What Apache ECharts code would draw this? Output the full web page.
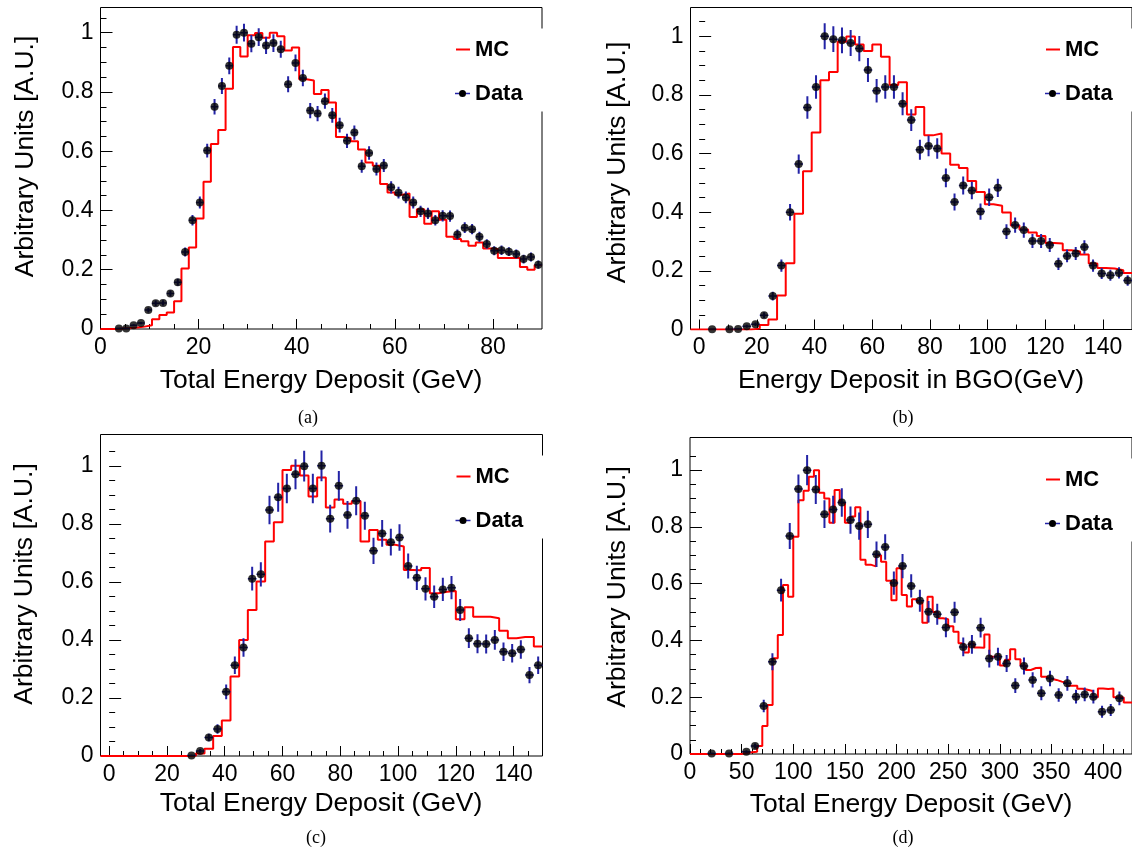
<!DOCTYPE html>
<html lang="en">
<head>
<meta charset="UTF-8">
<title>MC vs Data</title>
<script src="https://cdn.jsdelivr.net/npm/echarts@6/dist/echarts.min.js"></script>
<style>
  html, body { margin: 0; padding: 0; background: #fff; }
  #main { width: 1132px; height: 850px; }
</style>
</head>
<body>
<div id="main"></div>
<script>
// ---------- (a) Total Energy Deposit, 1.5 GeV bins ----------
var aBinWidth = 1.5;
var aMcStart = 0;
var aMc = [0, 0, 0.002, 0.003, 0.005, 0.008, 0.013, 0.033, 0.047, 0.056,
  0.094, 0.204, 0.275, 0.373, 0.497, 0.624, 0.672, 0.811, 0.952, 0.92,
  0.991, 0.999, 0.983, 1.0, 0.988, 0.94, 0.95, 0.843, 0.839, 0.793,
  0.807, 0.764, 0.648, 0.645, 0.634, 0.606, 0.562, 0.551, 0.489, 0.461,
  0.453, 0.457, 0.378, 0.404, 0.355, 0.397, 0.369, 0.311, 0.304, 0.296,
  0.281, 0.292, 0.272, 0.27, 0.24, 0.24, 0.24, 0.209, 0.2, 0.216];
var aDataFirstBin = 2;
var aData = [0.002, 0.002, 0.013, 0.02, 0.064, 0.087, 0.088, 0.12, 0.158, 0.26,
  0.367, 0.427, 0.602, 0.75, 0.82, 0.888, 0.993, 1.0, 0.963, 0.985,
  0.957, 0.965, 0.944, 0.826, 0.898, 0.847, 0.737, 0.727, 0.769, 0.721,
  0.688, 0.635, 0.663, 0.549, 0.594, 0.54, 0.552, 0.478, 0.46, 0.444,
  0.427, 0.397, 0.39, 0.367, 0.382, 0.381, 0.319, 0.342, 0.337, 0.311,
  0.287, 0.264, 0.266, 0.261, 0.253, 0.236, 0.243, 0.217];
var aErr = [0.001, 0.001, 0.003, 0.004, 0.008, 0.009, 0.009, 0.010, 0.012, 0.015,
  0.018, 0.020, 0.023, 0.026, 0.027, 0.028, 0.030, 0.030, 0.029, 0.030,
  0.029, 0.030, 0.029, 0.027, 0.028, 0.028, 0.026, 0.026, 0.026, 0.025,
  0.025, 0.024, 0.024, 0.022, 0.023, 0.022, 0.022, 0.021, 0.020, 0.020,
  0.020, 0.019, 0.019, 0.018, 0.019, 0.019, 0.017, 0.018, 0.017, 0.017,
  0.016, 0.015, 0.016, 0.015, 0.015, 0.015, 0.015, 0.014];

// ---------- (b) Energy Deposit in BGO, 3 GeV bins ----------
var bBinWidth = 3;
var bMcStart = -3;
var bMc = [0, 0, 0, 0, 0, 0, 0, 0.003, 0.015, 0.034, 0.116,
  0.226, 0.395, 0.54, 0.672, 0.85, 0.878, 0.981, 0.999, 0.972, 0.95,
  0.972, 0.93, 0.834, 0.843, 0.733, 0.759, 0.662, 0.668, 0.6, 0.562,
  0.551, 0.506, 0.469, 0.427, 0.422, 0.399, 0.355, 0.341, 0.331, 0.319,
  0.295, 0.293, 0.27, 0.266, 0.256, 0.225, 0.21, 0.208, 0.202, 0.193];
var bDataFirstBin = 1;
var bData = [0.001, null, 0.001, 0.002, 0.011, 0.018, 0.049, 0.114, 0.218, 0.4,
  0.564, 0.757, 0.827, 1.0, 0.99, 0.986, 0.977, 0.958, 0.885, 0.814,
  0.827, 0.827, 0.77, 0.714, 0.613, 0.626, 0.617, 0.517, 0.435, 0.491,
  0.474, 0.402, 0.451, 0.483, 0.334, 0.356, 0.339, 0.302, 0.302, 0.288,
  0.224, 0.251, 0.259, 0.281, 0.218, 0.191, 0.185, 0.193, 0.167];
var bErr = [0.001, null, 0.001, 0.002, 0.005, 0.006, 0.010, 0.015, 0.021, 0.028,
  0.033, 0.038, 0.040, 0.044, 0.044, 0.044, 0.044, 0.043, 0.041, 0.040,
  0.040, 0.040, 0.039, 0.037, 0.034, 0.035, 0.035, 0.032, 0.029, 0.031,
  0.030, 0.028, 0.030, 0.031, 0.025, 0.026, 0.026, 0.024, 0.024, 0.024,
  0.021, 0.022, 0.022, 0.023, 0.021, 0.019, 0.019, 0.019, 0.018];

// ---------- (c) Total Energy Deposit, 3 GeV bins ----------
var cBinWidth = 3;
var cMcStart = -3;
var cMc = [0, 0, 0, 0, 0, 0, 0, 0, 0, 0, 0.001,
  0.009, 0.025, 0.069, 0.122, 0.274, 0.4, 0.503, 0.601, 0.739, 0.806,
  0.986, 1.0, 0.967, 0.894, 0.96, 0.856, 0.884, 0.869, 0.879, 0.739,
  0.779, 0.745, 0.728, 0.722, 0.641, 0.64, 0.648, 0.561, 0.566, 0.569,
  0.471, 0.513, 0.48, 0.48, 0.475, 0.432, 0.406, 0.41, 0.41, 0.377];
var cDataFirstBin = 9;
var cData = [0.002, 0.017, 0.064, 0.093, 0.221, 0.313, 0.374, 0.611, 0.626, 0.848,
  0.892, 0.922, 0.971, 0.999, 0.922, 1.0, 0.818, 0.931, 0.831, 0.88,
  0.828, 0.707, 0.767, 0.737, 0.753, 0.655, 0.614, 0.576, 0.549, 0.574,
  0.58, 0.503, 0.406, 0.387, 0.386, 0.4, 0.359, 0.354, 0.367, 0.279, 0.313];
var cErr = [0.002, 0.007, 0.013, 0.016, 0.025, 0.030, 0.032, 0.041, 0.042, 0.049,
  0.050, 0.051, 0.052, 0.053, 0.051, 0.053, 0.048, 0.051, 0.048, 0.050,
  0.048, 0.045, 0.046, 0.046, 0.046, 0.043, 0.042, 0.040, 0.039, 0.040,
  0.040, 0.038, 0.034, 0.033, 0.033, 0.034, 0.032, 0.032, 0.032, 0.028, 0.030];

// ---------- (d) Total Energy Deposit, MC 5 GeV bins, data 8.4 GeV bins ----------
var dMcBinWidth = 5;
var dMcStart = 0;
var dMc = [0, 0, 0, 0, 0, 0, 0, 0, 0, 0,
  0.004, 0.006, 0.008, 0.028, 0.099, 0.173, 0.337, 0.419, 0.595, 0.554,
  0.765, 0.894, 0.927, 0.977, 1.0, 0.92, 0.9, 0.815, 0.93, 0.885,
  0.815, 0.837, 0.869, 0.684, 0.667, 0.661, 0.7, 0.677, 0.61, 0.542,
  0.654, 0.56, 0.52, 0.545, 0.535, 0.462, 0.554, 0.5, 0.478, 0.475,
  0.45, 0.431, 0.39, 0.358, 0.388, 0.375, 0.374, 0.421, 0.343, 0.347,
  0.312, 0.332, 0.369, 0.334, 0.311, 0.296, 0.303, 0.304, 0.272, 0.265,
  0.261, 0.255, 0.25, 0.24, 0.24, 0.23, 0.226, 0.222, 0.2, 0.231,
  0.229, 0.231, 0.2, 0.199, 0.181, 0.181];
var dBinWidth = 8.4;
var dDataFirstBin = 2;
var dData = [0.002, null, 0.002, null, 0.008, 0.028, 0.169, 0.325, 0.577, 0.768,
  0.934, 1.0, 0.932, 0.845, 0.861, 0.886, 0.824, 0.803, 0.809, 0.704,
  0.729, 0.602, 0.662, 0.592, 0.54, 0.501, 0.492, 0.446, 0.499, 0.377,
  0.386, 0.445, 0.336, 0.343, 0.319, 0.241, 0.31, 0.261, 0.214, 0.266,
  0.208, 0.249, 0.202, 0.21, 0.202, 0.149, 0.155, 0.196];
var dErr = [0.002, null, 0.002, null, 0.005, 0.009, 0.022, 0.030, 0.040, 0.046,
  0.051, 0.053, 0.051, 0.049, 0.049, 0.050, 0.048, 0.048, 0.048, 0.045,
  0.045, 0.041, 0.043, 0.041, 0.039, 0.038, 0.037, 0.035, 0.037, 0.033,
  0.033, 0.035, 0.031, 0.031, 0.030, 0.026, 0.030, 0.027, 0.025, 0.027,
  0.024, 0.026, 0.024, 0.024, 0.024, 0.021, 0.021, 0.024];

// ---------- tick values ----------
var yMajor = [0, 0.2, 0.4, 0.6, 0.8, 1];
var yMinor = [0.05, 0.1, 0.15, 0.25, 0.3, 0.35, 0.45, 0.5, 0.55, 0.65, 0.7, 0.75, 0.85, 0.9, 0.95, 1.05];
var aXMajor = [0, 20, 40, 60, 80];
var aXMinor = [5, 10, 15, 25, 30, 35, 45, 50, 55, 65, 70, 75, 85];
var bXMajor = [0, 20, 40, 60, 80, 100, 120, 140];
var bXMinor = [10, 30, 50, 70, 90, 110, 130];
var cXMajor = [0, 20, 40, 60, 80, 100, 120, 140];
var cXMinor = [5, 10, 15, 25, 30, 35, 45, 50, 55, 65, 70, 75, 85, 90, 95,
  105, 110, 115, 125, 130, 135, 145];
var dXMajor = [0, 50, 100, 150, 200, 250, 300, 350, 400];
var dXMinor = [10, 20, 30, 40, 60, 70, 80, 90, 110, 120, 130, 140, 160, 170, 180, 190,
  210, 220, 230, 240, 260, 270, 280, 290, 310, 320, 330, 340, 360, 370, 380, 390, 410, 420];

var sans = '"Liberation Sans", Arial, Helvetica, sans-serif';
var serif = '"Liberation Serif", "Times New Roman", serif';
var errColor = '#2323a6';

// histogram outline: one point per low edge, plus the last upper edge
function stepPoints(start, width, values) {
  var pts = values.map(function (v, i) { return [start + i * width, v]; });
  pts.push([start + values.length * width, values[values.length - 1]]);
  return pts;
}
// [center, value, error, half bin width]; empty bins are skipped
function dataPoints(firstBin, width, values, errs) {
  var out = [];
  values.forEach(function (v, i) {
    if (v === null) return;
    out.push([(firstBin + i + 0.5) * width, v, errs[i], width / 2]);
  });
  return out;
}

var panels = [
  { box: { left: 100.5, top: 7.5, width: 441.5, height: 321.5 }, xMin: 0, xMax: 90, yMax: 1.085,
    xMajor: aXMajor, xMinor: aXMinor,
    mc: stepPoints(aMcStart, aBinWidth, aMc), data: dataPoints(aDataFirstBin, aBinWidth, aData, aErr),
    xTitle: 'Total Energy Deposit (GeV)', xTitleAt: [321, 381], yTitleAt: [25.5, 156.5],
    caption: '(a)', captionAt: [308, 418] },
  { box: { left: 690.5, top: 7.5, width: 441.5, height: 322 }, xMin: -3, xMax: 150, yMax: 1.098,
    xMajor: bXMajor, xMinor: bXMinor,
    mc: stepPoints(bMcStart, bBinWidth, bMc), data: dataPoints(bDataFirstBin, bBinWidth, bData, bErr),
    xTitle: 'Energy Deposit in BGO(GeV)', xTitleAt: [911, 381], yTitleAt: [618, 162.5],
    caption: '(b)', captionAt: [903, 418] },
  { box: { left: 100.5, top: 434.5, width: 442, height: 321.5 }, xMin: -3, xMax: 150, yMax: 1.108,
    xMajor: cXMajor, xMinor: cXMinor,
    mc: stepPoints(cMcStart, cBinWidth, cMc), data: dataPoints(cDataFirstBin, cBinWidth, cData, cErr),
    xTitle: 'Total Energy Deposit (GeV)', xTitleAt: [321, 804], yTitleAt: [24.5, 584],
    caption: '(c)', captionAt: [316, 838] },
  { box: { left: 690, top: 437.5, width: 442, height: 316.5 }, xMin: 0, xMax: 428, yMax: 1.115,
    xMajor: dXMajor, xMinor: dXMinor,
    mc: stepPoints(dMcStart, dMcBinWidth, dMc), data: dataPoints(dDataFirstBin, dBinWidth, dData, dErr),
    xTitle: 'Total Energy Deposit (GeV)', xTitleAt: [911, 805], yTitleAt: [617.5, 587],
    caption: '(d)', captionAt: [903, 838] }
];

function renderErr(params, api) {
  var x = api.value(0), y = api.value(1), e = api.value(2), hw = api.value(3);
  var top = api.coord([x, y + e]), bot = api.coord([x, y - e]);
  var l = api.coord([x - hw, y]), r = api.coord([x + hw, y]);
  return {
    type: 'group',
    children: [
      { type: 'line', shape: { x1: top[0], y1: top[1], x2: bot[0], y2: bot[1] },
        style: { stroke: errColor, lineWidth: 2 } },
      { type: 'line', shape: { x1: l[0], y1: l[1], x2: r[0], y2: r[1] },
        style: { stroke: errColor, lineWidth: 1.5 } }
    ]
  };
}

var grids = [], xAxes = [], yAxes = [], series = [], graphics = [];

panels.forEach(function (p, i) {
  grids.push({
    left: p.box.left, top: p.box.top, width: p.box.width, height: p.box.height,
    show: true, borderColor: '#000', borderWidth: 1, outerBoundsMode: 'none'
  });
  // main x axis (labels + major ticks) and a second one only for minor ticks
  xAxes.push({
    type: 'value', gridIndex: i, position: 'bottom', min: p.xMin, max: p.xMax,
    axisLine: { show: false }, splitLine: { show: false },
    axisTick: { inside: true, length: 10, customValues: p.xMajor, lineStyle: { color: '#000', width: 1 } },
    axisLabel: { customValues: p.xMajor, margin: 7, fontSize: 23, color: '#000', fontFamily: sans }
  });
  xAxes.push({
    type: 'value', gridIndex: i, position: 'bottom', min: p.xMin, max: p.xMax,
    axisLine: { show: false }, splitLine: { show: false }, axisLabel: { show: false },
    axisTick: { inside: true, length: 5, customValues: p.xMinor, lineStyle: { color: '#000', width: 1 } }
  });
  yAxes.push({
    type: 'value', gridIndex: i, position: 'left', min: 0, max: p.yMax,
    axisLine: { show: false }, splitLine: { show: false },
    axisTick: { inside: true, length: 12, customValues: yMajor, lineStyle: { color: '#000', width: 1 } },
    axisLabel: { customValues: yMajor, margin: 7, fontSize: 23, color: '#000', fontFamily: sans }
  });
  yAxes.push({
    type: 'value', gridIndex: i, position: 'left', min: 0, max: p.yMax,
    axisLine: { show: false }, splitLine: { show: false }, axisLabel: { show: false },
    axisTick: { inside: true, length: 6, customValues: yMinor, lineStyle: { color: '#000', width: 1 } }
  });

  series.push({
    name: 'MC', type: 'line', step: 'end', xAxisIndex: 2 * i, yAxisIndex: 2 * i,
    data: p.mc, showSymbol: false, symbol: 'none', clip: true, z: 2,
    lineStyle: { color: '#ff0000', width: 2 }
  });
  series.push({
    name: 'Data error', type: 'custom', xAxisIndex: 2 * i, yAxisIndex: 2 * i,
    data: p.data, renderItem: renderErr, clip: true, z: 3
  });
  series.push({
    name: 'Data', type: 'scatter', xAxisIndex: 2 * i, yAxisIndex: 2 * i,
    data: p.data.map(function (d) { return [d[0], d[1]]; }),
    symbol: 'circle', symbolSize: 8, itemStyle: { color: '#000' }, z: 4
  });

  // axis titles and panel caption
  graphics.push({
    type: 'text', x: p.xTitleAt[0], y: p.xTitleAt[1], z: 10,
    style: { text: p.xTitle, font: '26.5px ' + sans, fill: '#000', align: 'center', verticalAlign: 'middle' }
  });
  graphics.push({
    type: 'text', x: p.yTitleAt[0], y: p.yTitleAt[1], rotation: Math.PI / 2, z: 10,
    style: { text: 'Arbitrary Units [A.U.]', font: '26.5px ' + sans, fill: '#000', align: 'center', verticalAlign: 'middle' }
  });
  graphics.push({
    type: 'text', x: p.captionAt[0], y: p.captionAt[1], z: 10,
    style: { text: p.caption, font: '18px ' + serif, fill: '#000', align: 'center', verticalAlign: 'middle' }
  });

  // legend box (white, covers the frame like the original TLegend)
  var R = p.box.left + p.box.width, T = p.box.top;
  graphics.push({
    type: 'rect', z: 20, shape: { x: R - 100, y: T + 21, width: 104, height: 83 },
    style: { fill: '#fff' }
  });
  graphics.push({
    type: 'line', z: 21, shape: { x1: R - 86, y1: T + 42, x2: R - 72, y2: T + 42 },
    style: { stroke: '#ff0000', lineWidth: 2 }
  });
  graphics.push({
    type: 'text', x: R - 67, y: T + 42, z: 21,
    style: { text: 'MC', font: 'bold 22px ' + sans, fill: '#000', align: 'left', verticalAlign: 'middle' }
  });
  graphics.push({
    type: 'line', z: 21, shape: { x1: R - 87, y1: T + 86, x2: R - 72, y2: T + 86 },
    style: { stroke: errColor, lineWidth: 1.5 }
  });
  graphics.push({
    type: 'circle', z: 22, shape: { cx: R - 79.5, cy: T + 86, r: 3.5 },
    style: { fill: '#000' }
  });
  graphics.push({
    type: 'text', x: R - 67, y: T + 86, z: 21,
    style: { text: 'Data', font: 'bold 22px ' + sans, fill: '#000', align: 'left', verticalAlign: 'middle' }
  });
});

var chart = echarts.init(document.getElementById('main'));
chart.setOption({
  animation: false,
  backgroundColor: '#fff',
  grid: grids,
  xAxis: xAxes,
  yAxis: yAxes,
  series: series,
  graphic: graphics
});
window.onresize = function () { chart.resize(); };
</script>
</body>
</html>
